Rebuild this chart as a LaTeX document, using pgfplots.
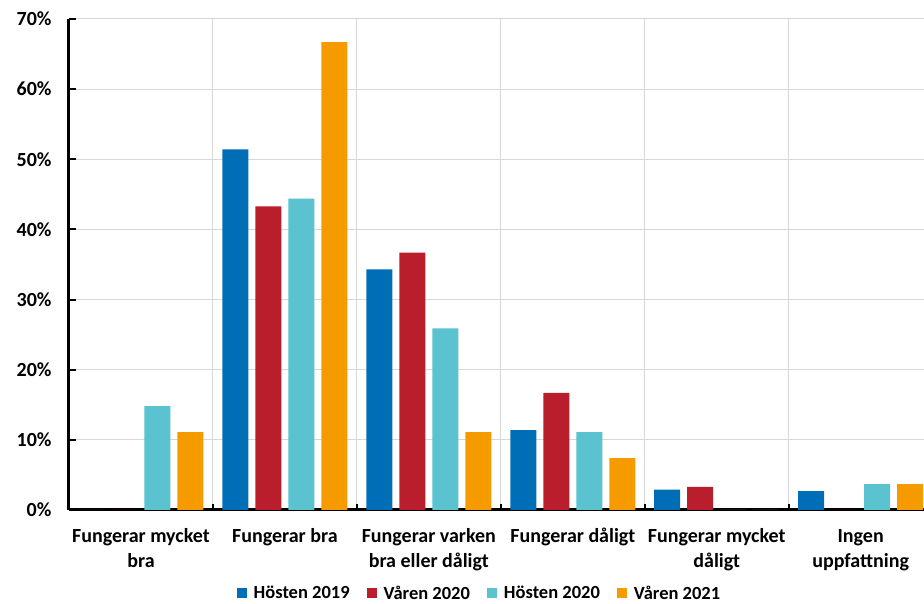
\documentclass[border=0pt]{standalone}
\usepackage{pgfplots}
\pgfplotsset{compat=1.18}
\usepackage{fontspec}
\setmainfont{Carlito}
\definecolor{cBlue}{RGB}{0,110,182}
\definecolor{cRed}{RGB}{186,30,45}
\definecolor{cCyan}{RGB}{91,194,207}
\definecolor{cOrange}{RGB}{245,155,0}
\definecolor{cGrid}{RGB}{215,215,215}
\newcommand{\ph}{\vphantom{Å}}
\begin{document}
\begin{tikzpicture}
\useasboundingbox (0,0) rectangle (924pt,604pt);
\begin{axis}[
    at={(69pt,94pt)}, anchor=south west,
    scale only axis, width=855pt, height=491pt,
    ybar=7pt, bar width=26pt,
    xmin=-0.5, xmax=5.44, ymin=0, ymax=70,
    axis lines*=left,
    axis line style={line width=3pt, black},
    xtick={0,...,5},
    xticklabels={\ph Fungerar mycket\\bra, \ph Fungerar bra, \ph Fungerar varken\\bra eller dåligt, \ph Fungerar dåligt, \ph Fungerar mycket\\dåligt, \ph Ingen\\uppfattning},
    x tick label style={align=center, font=\fontsize{20}{25}\selectfont\bfseries, yshift=-12pt},
    major x tick style={draw=none},
    minor xtick={-0.5,0.5,...,5.5},
    minor x tick style={line width=2pt, black},
    minor tick length=6pt,
    xminorgrids=true,
    minor x grid style={cGrid, line width=1pt},
    ytick={0,10,...,70},
    yticklabel={\pgfmathprintnumber{\tick}\%},
    y tick label style={font=\fontsize{20}{24}\selectfont\bfseries, xshift=-14pt},
    /pgf/number format/assume math mode=true,
    ymajorgrids=true,
    y grid style={cGrid, line width=1pt},
    major y tick style={line width=2pt, black},
    major tick length=7pt,
    tick align=inside,
    legend columns=4,
    legend style={at={(0.4795,-0.170)}, anchor=center, draw=none, fill=none,
        font=\fontsize{18.5}{22}\selectfont\bfseries,
        /tikz/every odd column/.style={column sep=6pt},
        /tikz/every even column/.style={column sep=16pt},
        nodes={inner sep=1pt}},
    legend image code/.code={\fill[#1] (0pt,-5pt) rectangle (10pt,5pt);},
]
\addplot[fill=cBlue, draw=none] coordinates {(0,0) (1,51.4) (2,34.3) (3,11.4) (4,2.9) (5,2.7)};
\addplot[fill=cRed, draw=none] coordinates {(0,0) (1,43.3) (2,36.7) (3,16.7) (4,3.3) (5,0)};
\addplot[fill=cCyan, draw=none] coordinates {(0,14.8) (1,44.4) (2,25.9) (3,11.1) (4,0) (5,3.7)};
\addplot[fill=cOrange, draw=none] coordinates {(0,11.1) (1,66.7) (2,11.1) (3,7.4) (4,0) (5,3.7)};
\legend{Hösten 2019, Våren 2020, Hösten 2020, Våren 2021}
\end{axis}
\end{tikzpicture}
\end{document}
